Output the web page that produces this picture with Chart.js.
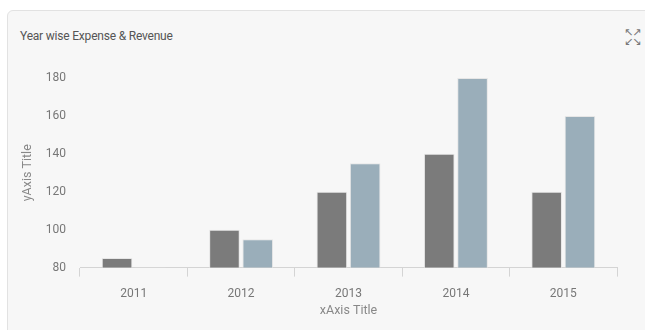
<!DOCTYPE html>
<html>
<head>
<meta charset="utf-8">
<script src="https://cdn.jsdelivr.net/npm/chart.js@4/dist/chart.umd.min.js"></script>
<style>
  html, body { margin: 0; padding: 0; background: #ffffff; width: 645px; height: 330px; overflow: hidden; font-family: Roboto, "Open Sans", sans-serif; }
  #card { position: absolute; left: 7px; top: 10px; width: 680px; height: 360px; background: #f7f7f7; border: 1px solid #e2e2e2; border-radius: 6px; box-sizing: border-box; }
  #title { position: absolute; left: 20px; top: 29px; font-size: 12px; color: #555; letter-spacing: -0.2px; }
  #icon { position: absolute; left: 624px; top: 28px; font-size: 11px; line-height: 9px; color: #777; width: 30px; font-family: "DejaVu Sans", sans-serif; letter-spacing: -1px; }
  #wrap { position: absolute; left: 0; top: 55px; width: 645px; height: 275px; }
</style>
</head>
<body>
<div id="card"></div>
<div id="title">Year wise Expense &amp; Revenue</div>
<div id="icon">↖↗<br>↙↘</div>
<div id="wrap"><canvas id="c"></canvas></div>
<script>
const categories = ['2011', '2012', '2013', '2014', '2015'];
const expense = [85, 100, 120, 140, 120];
const revenue = [80, 95, 135, 180, 160];
const seriesNames = ['Expense', 'Revenue'];
const yTicks = { min: 80, max: 180, step: 20 };

new Chart(document.getElementById('c'), {
  type: 'bar',
  data: {
    labels: categories,
    datasets: [
      { label: seriesNames[0], data: expense, backgroundColor: '#7b7b7b', borderColor: '#e6e6e6', borderWidth: 1, barPercentage: 0.92, categoryPercentage: 0.62 },
      { label: seriesNames[1], data: revenue, backgroundColor: '#9aaeba', borderColor: '#e6e6e6', borderWidth: 1, barPercentage: 0.92, categoryPercentage: 0.62 }
    ]
  },
  options: {
    responsive: true,
    maintainAspectRatio: false,
    animation: false,
    layout: { padding: { left: 20, right: 28, top: 23, bottom: 12 } },
    plugins: { legend: { display: false }, tooltip: { enabled: false } },
    scales: {
      x: {
        grid: { display: true, drawOnChartArea: false, drawTicks: true, tickLength: 9, color: '#d4d4d4', offset: true },
        border: { display: true, color: '#d4d4d4' },
        ticks: { color: '#777', font: { family: 'Roboto', size: 12 }, padding: 10 },
        title: { display: true, text: 'xAxis Title', color: '#888', font: { family: 'Roboto', size: 12.5 }, padding: { top: -8, bottom: 0 } }
      },
      y: {
        min: yTicks.min, max: yTicks.max,
        grid: { display: false },
        border: { display: false },
        afterFit: (s) => { s.width = 60; },
        ticks: { stepSize: yTicks.step, color: '#777', font: { family: 'Roboto', size: 12 }, padding: 6 },
        title: { display: true, text: 'yAxis Title', color: '#888', font: { family: 'Roboto', size: 12.5 }, padding: { top: 0, bottom: 12 } }
      }
    }
  }
});
</script>
</body>
</html>
